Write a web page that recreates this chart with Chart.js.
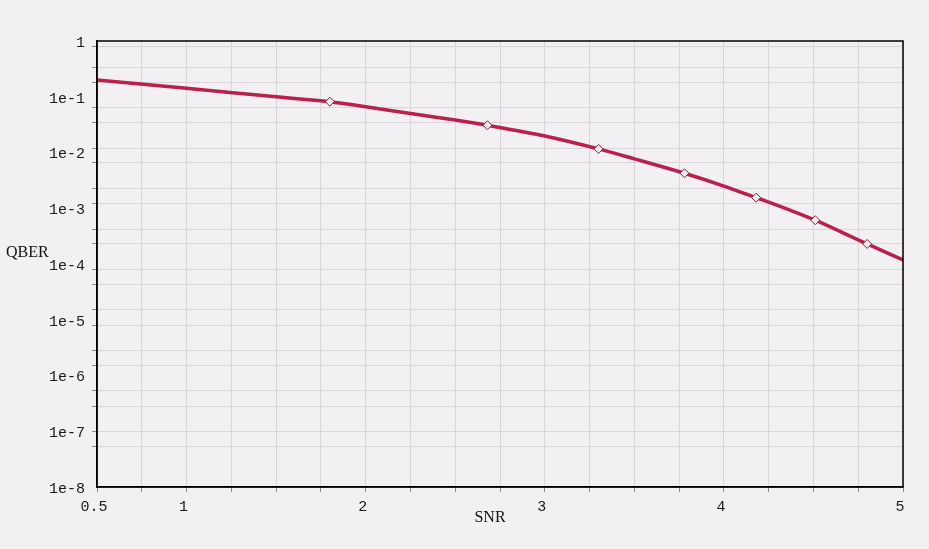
<!DOCTYPE html>
<html>
<head>
<meta charset="utf-8">
<script src="https://cdn.jsdelivr.net/npm/chart.js@4/dist/chart.umd.min.js"></script>
<style>
  html, body { margin: 0; padding: 0; background: #f3f0f3; }
  #wrap { width: 929px; height: 549px; }
</style>
</head>
<body>
<div id="wrap"><canvas id="qber"></canvas></div>
<script>
// QBER vs SNR curve
var snr = [0.5, 1, 1.5, 1.8, 2, 2.25, 2.5, 2.68, 3, 3.3, 3.5, 3.78, 4, 4.18, 4.25, 4.51, 4.75, 4.8, 5];
var qber = [0.200, 0.142, 0.100, 0.0815, 0.0663, 0.0501, 0.0383, 0.0308, 0.0198, 0.0116, 0.0077, 0.00424, 0.0025, 0.00155, 0.00129, 0.00061, 0.00027, 0.000229, 0.000118];
// marker positions along the curve
var markSnr = [1.8, 2.68, 3.3, 3.78, 4.18, 4.51, 4.8];
var markQber = [0.0815, 0.0308, 0.0116, 0.00424, 0.00155, 0.00061, 0.000229];
// axis ticks
var xLabels = [0.5, 1, 2, 3, 4, 5];
var yDecades = [1, 1e-1, 1e-2, 1e-3, 1e-4, 1e-5, 1e-6, 1e-7, 1e-8];
var yDecadeLabels = ["1", "1e-1", "1e-2", "1e-3", "1e-4", "1e-5", "1e-6", "1e-7", "1e-8"];
var yGrid = [0.79, 0.33, 0.18, 0.065, 0.035, 0.0119, 0.0066, 0.0023, 0.00123, 4.2e-4, 2.3e-4, 8e-5, 4.3e-5, 1.5e-5, 7.9e-6, 2.8e-6, 1.54e-6, 5.3e-7, 2.8e-7, 1.01e-7, 5.4e-8];

function isDecade(v) {
  return yDecades.indexOf(v) >= 0;
}

var frame = {
  id: 'frame',
  beforeDraw: function (chart) {
    var c = chart.ctx;
    c.save();
    c.fillStyle = '#f3f0f3';
    c.fillRect(0, 0, chart.width, chart.height);
    c.restore();
  },
  afterDraw: function (chart) {
    var c = chart.ctx, a = chart.chartArea;
    c.save();
    c.strokeStyle = '#000';
    c.lineWidth = 1.5;
    c.strokeRect(a.left, a.top, a.right - a.left, a.bottom - a.top);
    c.fillStyle = '#111';
    c.font = '16px "Liberation Serif"';
    c.textAlign = 'left';
    c.textBaseline = 'middle';
    c.fillText('QBER', 6, 253);
    c.textAlign = 'center';
    c.fillText('SNR', (a.left + a.right) / 2 - 10, 518);
    c.restore();
  }
};

var context = document.getElementById('qber');
var chart = new Chart(context, {
  type: 'line',
  data: {
    datasets: [
      {
        label: 'markers',
        data: markSnr.map(function (x, i) { return { x: x, y: markQber[i] }; }),
        showLine: false,
        pointStyle: 'rectRot',
        pointRadius: 4.5,
        pointBackgroundColor: '#f6e9ee',
        pointBorderColor: '#7a2538',
        pointBorderWidth: 1,
        order: 0
      },
      {
        label: 'QBER',
        data: snr.map(function (x, i) { return { x: x, y: qber[i] }; }),
        borderColor: '#bb1f4a',
        borderWidth: 3.5,
        pointRadius: 0,
        cubicInterpolationMode: 'monotone',
        order: 1
      }
    ]
  },
  options: {
    responsive: true,
    maintainAspectRatio: false,
    animation: false,
    layout: { padding: { top: 41, right: 26, left: 0, bottom: 0 } },
    plugins: {
      legend: { display: false },
      tooltip: { enabled: false }
    },
    scales: {
      x: {
        type: 'linear',
        min: 0.5,
        max: 5,
        afterFit: function (s) { s.height = 62; },
        ticks: {
          stepSize: 0.25,
          autoSkip: false,
          maxRotation: 0,
          padding: 6,
          labelOffset: -3,
          color: '#1a1a1a',
          font: { family: '"Liberation Mono"', size: 15 },
          callback: function (v) {
            return xLabels.indexOf(v) >= 0 ? String(v) : '';
          }
        },
        grid: {
          color: '#d9d6d9',
          tickColor: '#8a888a',
          tickLength: 5,
          lineWidth: 1
        },
        border: { color: '#000', width: 1.5 }
      },
      y: {
        type: 'logarithmic',
        min: 1e-8,
        max: 1,
        afterFit: function (s) { s.width = 97; },
        afterBuildTicks: function (s) {
          var t = [];
          yDecades.forEach(function (v) { t.push({ value: v }); });
          yGrid.forEach(function (v) { t.push({ value: v }); });
          s.ticks = t;
        },
        ticks: {
          autoSkip: false,
          padding: 7,
          labelOffset: 2,
          color: '#1a1a1a',
          font: { family: '"Liberation Mono"', size: 15 },
          callback: function (v) {
            var i = yDecades.indexOf(v);
            return i >= 0 ? yDecadeLabels[i] : '';
          }
        },
        grid: {
          color: function (ctx) {
            return ctx.tick && isDecade(ctx.tick.value) ? 'rgba(0,0,0,0)' : '#d9d6d9';
          },
          tickColor: function (ctx) {
            return ctx.tick && isDecade(ctx.tick.value) ? 'rgba(0,0,0,0)' : '#8a888a';
          },
          tickLength: 5,
          lineWidth: 1
        },
        border: { color: '#000', width: 1.5 }
      }
    }
  },
  plugins: [frame]
});
</script>
</body>
</html>
